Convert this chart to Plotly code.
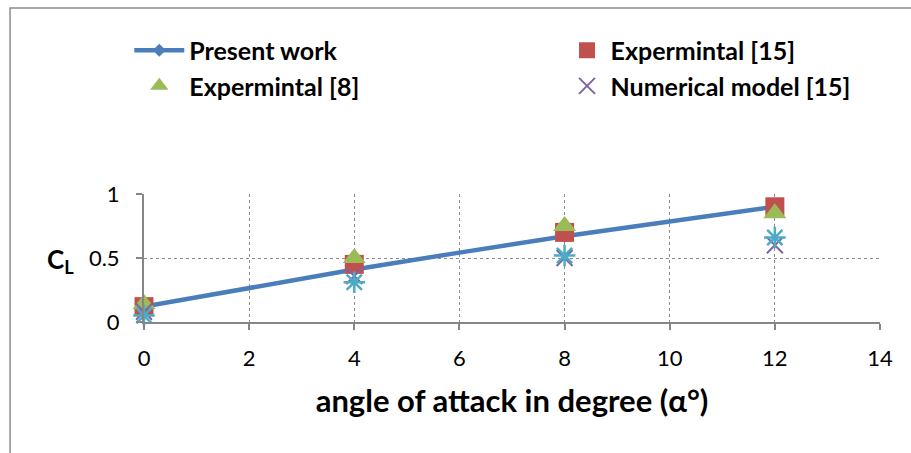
import plotly.graph_objects as go

# Angle of attack (degrees)
alpha = [0, 4, 8, 12]

# Lift coefficient series
cl_present = [0.12, 0.41, 0.67, 0.90]
cl_exp8 = [0.14, 0.50, 0.75, 0.85]
cl_exp15 = [0.12, 0.45, 0.70, 0.90]
cl_num15 = [0.08, 0.36, 0.50, 0.60]
cl_extra = [0.05, 0.31, 0.52, 0.66]

x_ticks = [0, 2, 4, 6, 8, 10, 12, 14]
y_ticks = [0, 0.5, 1]
y_tick_text = ["0", "0.5", "1"]

FONT = "Lato"
GRID = "#8c8c8c"
AXIS = "#868686"

fig = go.Figure()

fig.add_trace(go.Scatter(
    x=alpha, y=cl_present, name="<b>Present work</b>", mode="lines+markers",
    line=dict(color="#4A7EBB", width=4.5, shape="spline", smoothing=0.6),
    marker=dict(symbol="diamond", size=10, color="#4A7EBB"),
    legend="legend", cliponaxis=False,
))
fig.add_trace(go.Scatter(
    x=alpha, y=cl_exp15, name="<b>Expermintal [15]</b>", mode="markers",
    marker=dict(symbol="square", size=19, color="#C0504D"),
    legend="legend2", cliponaxis=False,
))
fig.add_trace(go.Scatter(
    x=alpha, y=cl_exp8, name="<b>Expermintal [8]</b>", mode="markers",
    marker=dict(symbol="triangle-up", size=20, color="#9BBB59"),
    legend="legend", cliponaxis=False,
))
fig.add_trace(go.Scatter(
    x=alpha, y=cl_num15, name="<b>Numerical model [15]</b>", mode="markers",
    marker=dict(symbol="x-thin", size=16, line=dict(color="#8064A2", width=2)),
    legend="legend2", cliponaxis=False,
))
fig.add_trace(go.Scatter(
    x=alpha, y=cl_extra, name="", mode="markers", showlegend=False,
    marker=dict(symbol="asterisk", size=18, line=dict(color="#4BACC6", width=2.5)),
    cliponaxis=False,
))

legend_common = dict(
    font=dict(family=FONT, size=25, color="#000000"),
    bgcolor="rgba(0,0,0,0)", orientation="v",
    xanchor="left", yanchor="top",
    traceorder="normal", tracegroupgap=0,
)

fig.update_layout(
    width=911, height=453,
    margin=dict(l=144, r=31, t=194, b=131),
    paper_bgcolor="white", plot_bgcolor="white",
    font=dict(family=FONT, size=22, color="#000000"),
    showlegend=True,
    legend=dict(x=-0.02, y=2.3, itemwidth=50, **legend_common),
    legend2=dict(x=0.57, y=2.3, itemwidth=37, **legend_common),
    xaxis=dict(
        range=[0, 14], tickvals=x_ticks, ticktext=[str(v) for v in x_ticks],
        showgrid=True, gridcolor=GRID, griddash="dot", gridwidth=1,
        showline=True, linecolor=AXIS, linewidth=2,
        ticks="outside", ticklen=6, tickcolor=AXIS, tickwidth=2,
        ticklabelstandoff=10,
        zeroline=False, tickfont=dict(family=FONT, size=22),
        title=dict(text="<b>angle of attack in degree (α°)</b>",
                   font=dict(family=FONT, size=31), standoff=20),
    ),
    yaxis=dict(
        range=[0, 1], tickvals=y_ticks, ticktext=y_tick_text,
        showgrid=True, gridcolor=GRID, griddash="dot", gridwidth=1,
        showline=True, linecolor=AXIS, linewidth=2,
        ticks="outside", ticklen=6, tickcolor=AXIS, tickwidth=2,
        ticklabelstandoff=12,
        zeroline=False, tickfont=dict(family=FONT, size=22),
    ),
)

# Y-axis title (C_L) placed beside the tick labels
fig.add_annotation(
    text="<b>C<sub>L</sub></b>", xref="paper", yref="paper",
    x=-0.093, y=0.48, xanchor="right", yanchor="middle", showarrow=False,
    font=dict(family=FONT, size=26, color="#000000"),
)

# Chart frame
fig.add_shape(
    type="rect", xref="paper", yref="paper",
    x0=-0.182, x1=1.2, y0=-1.5, y1=2.453,
    line=dict(color="#8a8a8a", width=1.5), fillcolor="rgba(0,0,0,0)", layer="below",
)

fig.write_html("out.html")
